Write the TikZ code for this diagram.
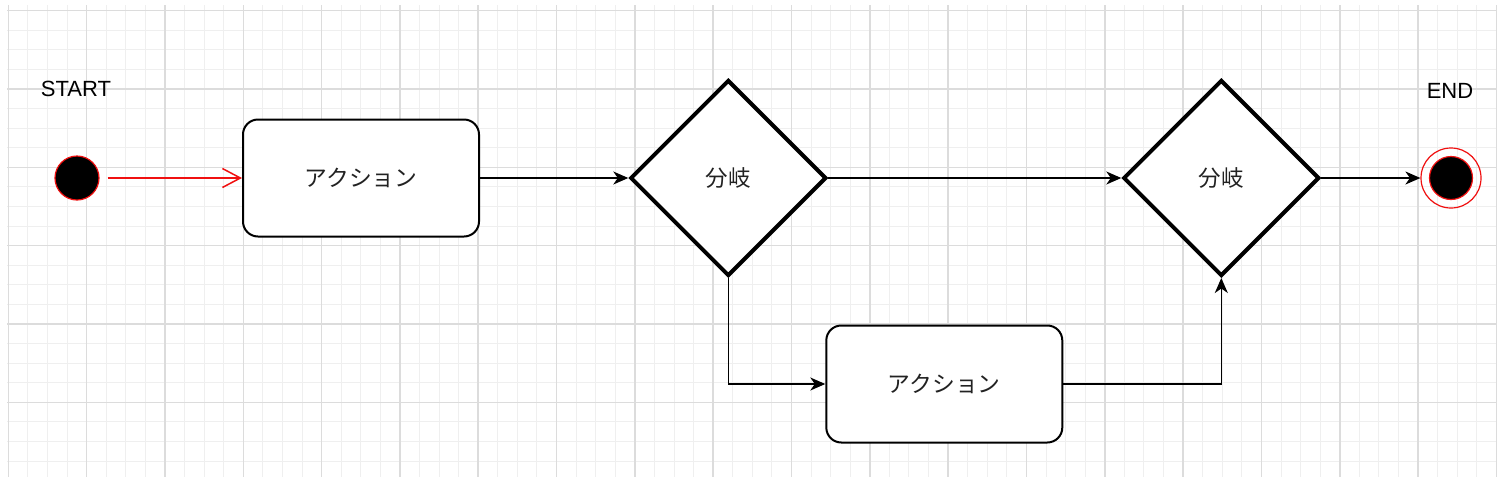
\documentclass[tikz,border=0pt]{standalone}
\usepackage{fontspec}
\setmainfont{Liberation Sans}
\newfontfamily\jp{Noto Sans CJK JP}
\usetikzlibrary{shapes.geometric,arrows.meta}
\definecolor{minorgrid}{HTML}{EFEFEF}
\definecolor{majorgrid}{HTML}{DCDCDC}
\definecolor{txt}{HTML}{222222}
\definecolor{redline}{HTML}{F01010}
\begin{document}
\begin{tikzpicture}[x=1pt,y=-1pt,
  lbl/.style={font=\fontsize{22pt}{26pt}\selectfont, text=black, inner sep=0pt},
  action/.style={draw, line width=2pt, rounded corners=15pt, minimum width=236pt, minimum height=117pt, fill=white, inner sep=0pt, font=\jp\fontsize{22.8pt}{26pt}\selectfont, text=txt},
  decision/.style={diamond, draw, line width=4pt, minimum width=196pt, minimum height=196pt, aspect=1, inner sep=0pt, fill=white, font=\jp\fontsize{22.5pt}{26pt}\selectfont, text=txt},
  startnode/.style={circle, draw=redline, fill=black, line width=1.2pt, minimum size=44pt, inner sep=0pt},
  endouter/.style={circle, draw=redline, line width=1.2pt, minimum size=60pt, inner sep=0pt},
  endinner/.style={circle, draw=redline, fill=black, line width=1.2pt, minimum size=43pt, inner sep=0pt},
  flow/.style={line width=1.5pt, -{Stealth[length=15pt,width=13pt,inset=4.5pt]}},
  redflow/.style={line width=1.5pt, draw=redline, -{Straight Barb[length=18pt,width=19pt,line width=1.5pt]}}
]
\useasboundingbox (0,0) rectangle (1500,488);
\fill[white] (0,0) rectangle (1500,488);
% grid
\begin{scope}
\clip (7,5) rectangle (1497,477);
\foreach \i in {-1,...,77} {\draw[minorgrid, line width=1pt] ({8.3+\i*19.58},5) -- ({8.3+\i*19.58},477);}
\foreach \j in {-1,...,25} {\draw[minorgrid, line width=1pt] (7,{10.7+\j*19.58}) -- (1497,{10.7+\j*19.58});}
\foreach \i in {0,...,19} {\draw[majorgrid, line width=1.5pt] ({8.3+\i*78.32},5) -- ({8.3+\i*78.32},477);}
\foreach \j in {0,...,6} {\draw[majorgrid, line width=1.5pt] (7,{10.7+\j*78.32}) -- (1497,{10.7+\j*78.32});}
\end{scope}
% nodes
\node[lbl] (startlbl) at (76,89) {START};
\node[lbl] (endlbl) at (1450,91) {END};
\node[startnode] (start) at (77,178) {};
\node[action] (act1) at (361,178) {アクション};
\node[decision] (d1) at (728.3,178) {分岐};
\node[decision] (d2) at (1221.3,178) {分岐};
\node[endouter] (endo) at (1451,178) {};
\node[endinner] (endi) at (1451,178) {};
\node[action] (act2) at (944.3,384) {アクション};
% connectors
\draw[redflow, shorten <=8pt] (start.east) -- (act1.west);
\draw[flow] (act1.east) -- (d1.west);
\draw[flow] (d1.east) -- (d2.west);
\draw[flow] (d2.east) -- (endo.west);
\draw[flow] (d1.south) |- (act2.west);
\draw[flow] (act2.east) -| (d2.south);
\end{tikzpicture}
\end{document}
